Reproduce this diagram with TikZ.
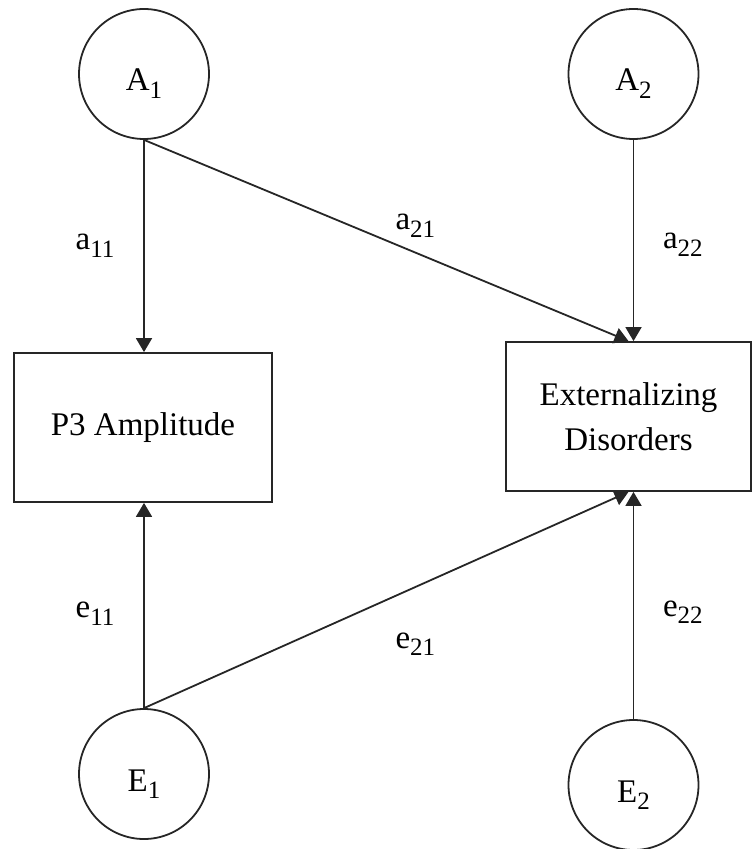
\documentclass[tikz,border=0pt]{standalone}
\usepackage{fontspec}
\setmainfont{Liberation Serif}
\usepackage{tikz}
\usetikzlibrary{arrows.meta,positioning}
\newcommand{\lowsub}[1]{\raisebox{-3.8pt}{\fontsize{12.5}{14}\selectfont #1}}

\begin{document}
\begin{tikzpicture}[
    latent/.style={circle, draw=black!85, line width=0.9pt, minimum size=65pt, inner sep=0pt, text height=17pt, text depth=0pt, font=\fontsize{16.5}{20}\selectfont},
    observed/.style={rectangle, draw=black!85, line width=0.9pt, minimum height=74.5pt, align=center, font=\fontsize{16.5}{22.5}\selectfont},
    effect/.style={-{Triangle[length=7pt, width=8pt]}, draw=black!85, line width=0.9pt},
    coef/.style={font=\fontsize{16.5}{20}\selectfont}
]
\useasboundingbox (0,0) rectangle (376pt,-424.5pt);

% Latent factors
\node[latent] (a1) at (72pt,-37pt) {A\lowsub{1}};
\node[latent] (a2) at (316.75pt,-37pt) {A\lowsub{2}};
\node[latent] (e1) at (72pt,-387pt) {E\lowsub{1}};
\node[latent] (e2) at (316.75pt,-392.5pt) {E\lowsub{2}};

% Observed measures
\node[observed, minimum width=129pt] (p3) at (71.5pt,-213.75pt) {P3 Amplitude};
\node[observed, minimum width=122.5pt] (ext) at (314.25pt,-208.25pt) {Externalizing\\Disorders};

% Paths
\draw[effect] (a1.south) -- node[coef, left=11pt] {a\lowsub{11}} (a1 |- p3.north);
\draw[effect] (a1.south) -- node[coef, pos=0.56, above=4pt] {a\lowsub{21}} (ext.north);
\draw[effect] (a2.south) -- node[coef, pos=0.52, right=11pt] {a\lowsub{22}} (a2 |- ext.north);
\draw[effect] (e1.north) -- node[coef, pos=0.46, left=11pt] {e\lowsub{11}} (e1 |- p3.south);
\draw[effect] (e1.north) -- node[coef, pos=0.56, below=19pt] {e\lowsub{21}} (ext.south);
\draw[effect] (e2.north) -- node[coef, pos=0.47, right=11pt] {e\lowsub{22}} (e2 |- ext.south);

\end{tikzpicture}
\end{document}
